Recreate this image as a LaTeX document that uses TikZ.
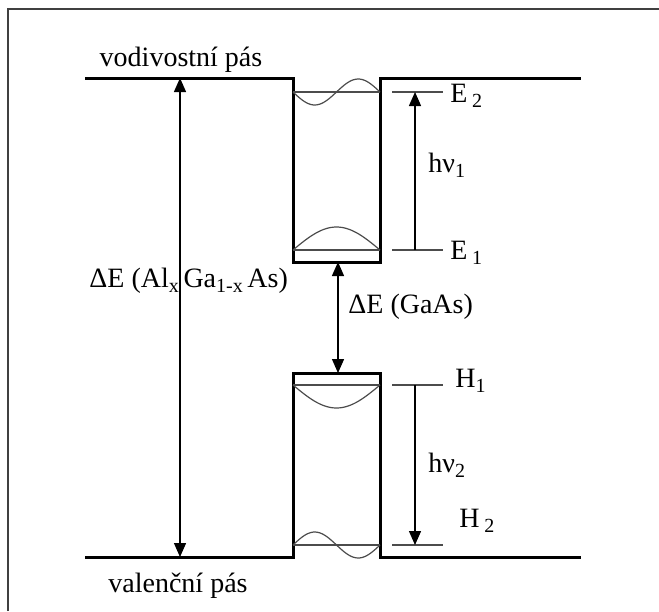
\documentclass[tikz,border=0pt]{standalone}
\usepackage{fontspec}
\setmainfont{Liberation Serif}
\usetikzlibrary{arrows.meta}
\newcommand\lsub[1]{\raisebox{-0.45ex}{\fontsize{10}{12}\selectfont #1}}
\begin{document}
\begin{tikzpicture}[x=0.5pt,y=-0.5pt,
  band/.style={line width=1.5pt,black},
  level/.style={line width=0.6pt,black!70},
  wave/.style={line width=0.6pt,black!70},
  frame/.style={line width=0.8pt,black!75},
  dimarrow/.style={line width=0.7pt,black,-{Triangle[width=6pt,length=7pt]}},
  dimarrows/.style={line width=0.7pt,black,{Triangle[width=6pt,length=7pt]}-{Triangle[width=6pt,length=7pt]}},
  lbl/.style={inner sep=0pt,font=\fontsize{14}{17}\selectfont}]
\useasboundingbox (0,0) rectangle (659,611);
% frame
\draw[frame] (8,611) -- (8,9) -- (659,9);
% band edges with wells
\coordinate (cbL) at (85,78);
\coordinate (cbR) at (581,78);
\coordinate (vbL) at (85,557);
\coordinate (vbR) at (581,557);
\draw[band] (cbL) -- (293,78) -- (293,262) -- (380,262) -- (380,78) -- (cbR);
\draw[band] (vbL) -- (293,557) -- (293,373) -- (380,373) -- (380,557) -- (vbR);
% levels inside wells
\draw[level] (293,92) -- (380,92);
\draw[level] (293,250) -- (380,250);
\draw[level] (293,385) -- (380,385);
\draw[level] (293,545) -- (380,545);
% wave functions
\draw[wave] plot[domain=0:1,samples=40,smooth] ({293+87*\x},{92+13*sin(360*\x)});
\draw[wave] plot[domain=0:1,samples=40,smooth] ({293+87*\x},{250-23*sin(180*\x)});
\draw[wave] plot[domain=0:1,samples=40,smooth] ({293+87*\x},{385+23*sin(180*\x)});
\draw[wave] plot[domain=0:1,samples=40,smooth] ({293+87*\x},{545-13*sin(360*\x)});
% outside level marks
\coordinate (e2a) at (392,92);  \coordinate (e2b) at (443,92);
\coordinate (e1a) at (392,250); \coordinate (e1b) at (443,250);
\coordinate (h1a) at (392,385); \coordinate (h1b) at (443,385);
\coordinate (h2a) at (392,545); \coordinate (h2b) at (443,545);
\draw[level] (e2a) -- (e2b);
\draw[level] (e1a) -- (e1b);
\draw[level] (h1a) -- (h1b);
\draw[level] (h2a) -- (h2b);
% transition arrows
\coordinate (t1s) at (415,250); \coordinate (t1e) at (415,92);
\coordinate (t2s) at (415,385); \coordinate (t2e) at (415,545);
\draw[dimarrow] (t1s) -- (t1e);
\draw[dimarrow] (t2s) -- (t2e);
% gap arrows
\coordinate (gL1) at (180,78);  \coordinate (gL2) at (180,557);
\coordinate (gM1) at (338,262); \coordinate (gM2) at (338,373);
\draw[dimarrows] (gL1) -- (gL2);
\draw[dimarrows] (gM1) -- (gM2);
% labels
\node[lbl,anchor=base] (cb) at (181,66) {vodivostní pás};
\node[lbl,anchor=base] (vb) at (178,592) {valenční pás};
\node[lbl,anchor=base west] (E2) at (450,102) {E\,\lsub{2}};
\node[lbl,anchor=base west] (E1) at (450,259) {E\,\lsub{1}};
\node[lbl,anchor=base west] (H1) at (455,387) {H\lsub{1}};
\node[lbl,anchor=base west] (H2) at (459,527) {H\,\lsub{2}};
\node[lbl,anchor=base west] (hv1) at (428,172) {hν\lsub{1}};
\node[lbl,anchor=base west] (hv2) at (428,472) {hν\lsub{2}};
\node[lbl,anchor=base west] (dEAl) at (89,287) {ΔE (Al\lsub{x}\,Ga\lsub{1-x}\,As)};
\node[lbl,anchor=base west] (dEGa) at (348,313) {ΔE (GaAs)};
\end{tikzpicture}
\end{document}
